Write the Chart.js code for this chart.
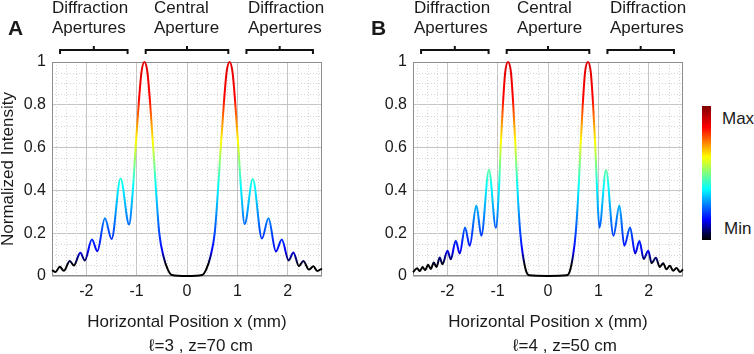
<!DOCTYPE html>
<html>
<head>
<meta charset="utf-8">
<script src="https://cdn.jsdelivr.net/npm/chart.js@4.4.1/dist/chart.umd.min.js"></script>
<style>
  body { margin: 0; background: #fff; width: 754px; height: 354px; position: relative; overflow: hidden;
         font-family: 'Liberation Sans', Arial, sans-serif; color: #1a1a1a; }
  canvas { position: absolute; top: 0; }
  .lbl { position: absolute; font-size: 17px; line-height: 20px; white-space: nowrap; }
  .tag { position: absolute; font-size: 21px; font-weight: bold; line-height: 24px; }
  .sub { position: absolute; width: 200px; text-align: center; font-size: 17px; line-height: 20px; }
  #cbar { position: absolute; left: 702px; top: 106px; width: 9px; height: 134px;
          background: linear-gradient(to top, #000 0%, #000035 4%, #0000ff 15%, #00ffff 38%, #ffff00 62%, #ff0000 84%, #800000 100%); }
</style>
</head>
<body>
<canvas id="chartA" width="370" height="354" style="left:0"></canvas>
<canvas id="chartB" width="340" height="354" style="left:361px"></canvas>

<div class="tag" style="left:8px;top:16px">A</div>
<div class="lbl" style="left:52px;top:-2px">Diffraction<br>Apertures</div>
<div class="lbl" style="left:154px;top:-2px">Central<br>Aperture</div>
<div class="lbl" style="left:248px;top:-2px">Diffraction<br>Apertures</div>
<div class="sub" style="left:101px;top:336px">ℓ=3 , z=70 cm</div>

<div class="tag" style="left:371px;top:16px">B</div>
<div class="lbl" style="left:414px;top:-2px">Diffraction<br>Apertures</div>
<div class="lbl" style="left:517px;top:-2px">Central<br>Aperture</div>
<div class="lbl" style="left:610px;top:-2px">Diffraction<br>Apertures</div>
<div class="sub" style="left:465px;top:336px">ℓ=4 , z=50 cm</div>

<div id="cbar"></div>
<div class="lbl" style="left:722px;top:109px">Max</div>
<div class="lbl" style="left:724px;top:219px">Min</div>

<script>
const xTicks = [-2, -1, 0, 1, 2];
const yTicks = [0, 0.2, 0.4, 0.6, 0.8, 1];

// panel A: l=3, z=70 cm
const xA = [-2.68, -2.61, -2.525, -2.445, -2.326, -2.247, -2.118, -2.028, -1.888, -1.779, -1.63, -1.497, -1.318, -1.15,
  -1.075, -1.02, -0.96, -0.905, -0.845, -0.785, -0.73, -0.67, -0.615, -0.55, -0.465, -0.38, -0.3,
  0,
  0.3, 0.38, 0.465, 0.55, 0.615, 0.67, 0.73, 0.785, 0.845, 0.905, 0.96, 1.02, 1.075,
  1.145, 1.306, 1.488, 1.617, 1.765, 1.882, 2.018, 2.112, 2.222, 2.31, 2.42, 2.51, 2.585, 2.68];
const yA = [0.027, 0.019, 0.043, 0.024, 0.070, 0.049, 0.109, 0.073, 0.170, 0.116, 0.270, 0.173, 0.456, 0.241,
  0.40, 0.60, 0.80, 0.95, 1.00, 0.95, 0.80, 0.60, 0.40, 0.20, 0.09, 0.03, 0.005,
  0,
  0.005, 0.03, 0.09, 0.20, 0.40, 0.60, 0.80, 0.95, 1.00, 0.95, 0.80, 0.60, 0.40,
  0.243, 0.453, 0.175, 0.270, 0.115, 0.170, 0.073, 0.110, 0.046, 0.070, 0.030, 0.045, 0.023, 0.035];

// panel B: l=4, z=50 cm
const xB = [-2.68, -2.598, -2.545, -2.49, -2.44, -2.38, -2.327, -2.267, -2.214, -2.149, -2.095, -1.996, -1.93, -1.832,
  -1.752, -1.647, -1.554, -1.422, -1.323, -1.172, -1.035,
  -0.975, -0.94, -0.895, -0.85, -0.792, -0.735, -0.69, -0.645, -0.605, -0.55, -0.5, -0.43, -0.37,
  0,
  0.37, 0.43, 0.5, 0.55, 0.605, 0.645, 0.69, 0.735, 0.792, 0.85, 0.895, 0.94, 0.975,
  1.02, 1.152, 1.3, 1.418, 1.515, 1.63, 1.73, 1.815, 1.9, 1.99, 2.058, 2.14, 2.22, 2.287, 2.35, 2.42, 2.485, 2.55, 2.62, 2.68];
const yB = [0.018, 0.036, 0.023, 0.042, 0.027, 0.052, 0.033, 0.063, 0.042, 0.086, 0.055, 0.118, 0.078, 0.165,
  0.105, 0.227, 0.141, 0.329, 0.188, 0.496, 0.225,
  0.40, 0.60, 0.80, 0.95, 1.00, 0.95, 0.80, 0.60, 0.40, 0.20, 0.10, 0.02, 0.003,
  0,
  0.003, 0.02, 0.10, 0.20, 0.40, 0.60, 0.80, 0.95, 1.00, 0.95, 0.80, 0.60, 0.40,
  0.226, 0.495, 0.188, 0.329, 0.141, 0.227, 0.105, 0.163, 0.080, 0.118, 0.060, 0.085, 0.042, 0.060, 0.031, 0.048, 0.024, 0.037, 0.019, 0.031];

// aperture spans (mm) marked with brackets above the plots
const apertures = [[-2.52, -1.18], [-0.82, 0.82], [1.18, 2.5]];

// intensity -> colour, black at 0 up to red at 1
const intensityStops = [[0, '#000000'], [0.05, '#000000'], [0.12, '#0000ff'], [0.42, '#00ffff'],
  [0.63, '#ffff00'], [0.83, '#ff0000'], [1, '#dd0000']];

Chart.defaults.font.family = "'Liberation Sans', Arial, sans-serif";
Chart.defaults.color = '#1a1a1a';

function intensityStroke(context) {
  const chart = context.chart;
  if (!chart.chartArea) return '#000';
  const y = chart.scales.y;
  const g = chart.ctx.createLinearGradient(0, y.getPixelForValue(0), 0, y.getPixelForValue(1));
  intensityStops.forEach(([v, c]) => g.addColorStop(v, c));
  return g;
}

const axesDecor = {
  id: 'axesDecor',
  beforeDatasetsDraw(chart) {
    const { ctx, chartArea: a, scales: { x, y } } = chart;
    ctx.save();
    ctx.lineWidth = 1;
    ctx.strokeStyle = '#d6d6d6';
    ctx.setLineDash([1, 2]);
    for (let i = -13; i <= 13; i++) {
      if (i % 5 === 0) continue;
      const px = Math.round(x.getPixelForValue(i * 0.2)) + 0.5;
      ctx.beginPath(); ctx.moveTo(px, a.top); ctx.lineTo(px, a.bottom); ctx.stroke();
    }
    for (let i = 1; i < 20; i++) {
      if (i % 4 === 0) continue;
      const py = Math.round(y.getPixelForValue(i * 0.05)) + 0.5;
      ctx.beginPath(); ctx.moveTo(a.left, py); ctx.lineTo(a.right, py); ctx.stroke();
    }
    ctx.setLineDash([]);
    ctx.strokeStyle = '#8e8e8e';
    ctx.strokeRect(Math.round(a.left) + 0.5, Math.round(a.top) + 0.5, Math.round(a.width) - 1, Math.round(a.height) - 1);
    ctx.restore();
  },
  afterDraw(chart) {
    const { ctx, chartArea: a, scales: { x } } = chart;
    ctx.save();
    ctx.strokeStyle = '#111';
    ctx.lineWidth = 2;
    apertures.forEach(([lo, hi]) => {
      const x1 = x.getPixelForValue(lo), x2 = x.getPixelForValue(hi), xc = (x1 + x2) / 2;
      ctx.beginPath();
      ctx.moveTo(x1, a.top - 8); ctx.lineTo(x1, a.top - 12); ctx.lineTo(x2, a.top - 12); ctx.lineTo(x2, a.top - 8);
      ctx.moveTo(xc, a.top - 12); ctx.lineTo(xc, a.top - 16);
      ctx.stroke();
    });
    ctx.restore();
  },
};

function makeChart(id, xs, ys, padRight, yTitle) {
  return new Chart(document.getElementById(id), {
    type: 'line',
    data: {
      datasets: [{
        data: xs.map((x, i) => ({ x, y: ys[i] })),
        borderColor: intensityStroke,
        borderWidth: 2, pointRadius: 0, fill: false, clip: false,
        cubicInterpolationMode: 'monotone',
      }],
    },
    options: {
      responsive: false, animation: false, events: [],
      layout: { padding: { left: 0, top: 62, right: padRight, bottom: 0 } },
      plugins: { legend: { display: false }, tooltip: { enabled: false } },
      scales: {
        x: {
          type: 'linear', min: -2.68, max: 2.68,
          afterBuildTicks: (s) => { s.ticks = xTicks.map((value) => ({ value })); },
          afterFit: (s) => { s.height = 78; },
          grid: { color: '#c4c4c4', drawTicks: false },
          border: { display: false },
          ticks: { padding: 6, color: '#1a1a1a', font: { size: 16 } },
          title: { display: true, text: 'Horizontal Position x (mm)', color: '#1a1a1a', font: { size: 17 }, padding: { top: 0, bottom: 21 } },
        },
        y: {
          type: 'linear', min: 0, max: 1,
          afterBuildTicks: (s) => { s.ticks = yTicks.map((value) => ({ value })); },
          afterFit: (s) => { s.width = 52; },
          grid: { color: '#c4c4c4', drawTicks: false },
          border: { display: false },
          ticks: { padding: 6, color: '#1a1a1a', font: { size: 16 }, callback: (v) => String(+v.toFixed(1)) },
          title: { display: yTitle, text: 'Normalized Intensity', color: '#1a1a1a', font: { size: 17, lineHeight: 1 }, padding: 0 },
        },
      },
    },
    plugins: [axesDecor],
  });
}

makeChart('chartA', xA, yA, 48, true);
makeChart('chartB', xB, yB, 18, false);
</script>
</body>
</html>
